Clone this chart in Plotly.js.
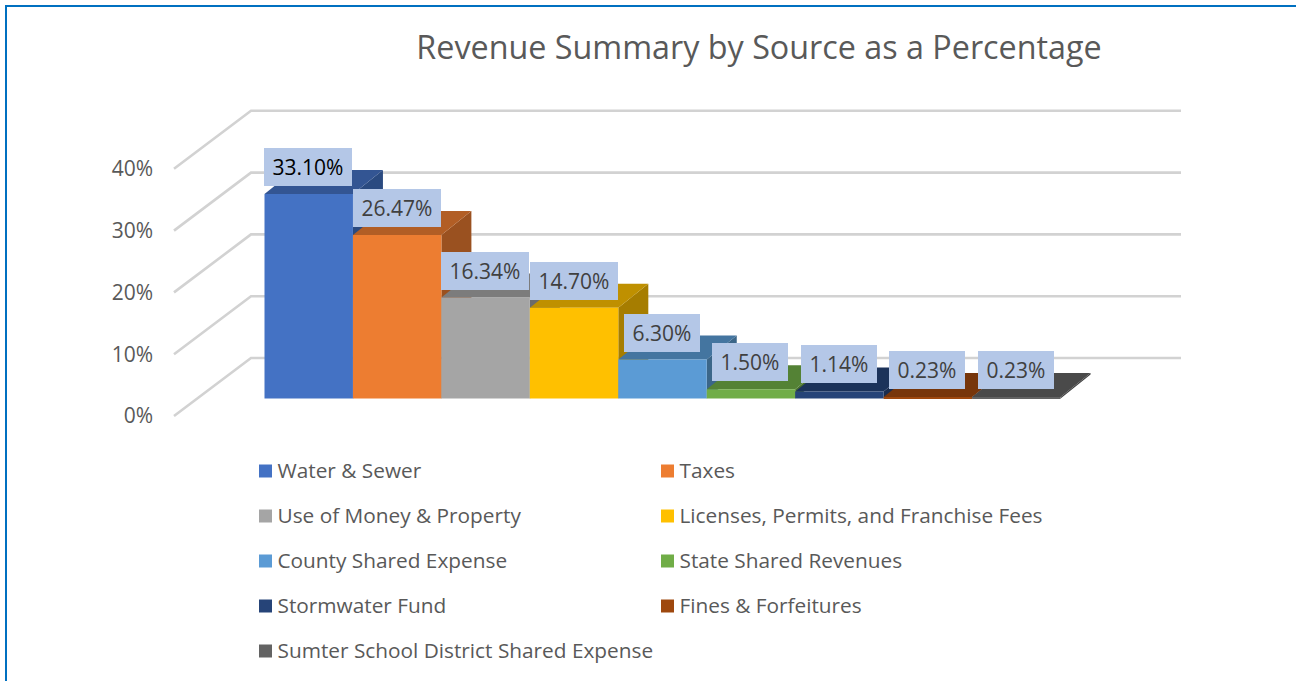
<!DOCTYPE html>
<html><head><meta charset="utf-8">
<script src="https://cdn.plot.ly/plotly-3.0.1.min.js"></script>
<style>html,body{margin:0;padding:0;background:#fff;overflow:hidden}</style>
</head><body><div id="chart" style="width:1296px;height:681px"></div>
<script>
const categories = ['Water & Sewer','Taxes','Use of Money & Property','Licenses, Permits, and Franchise Fees','County Shared Expense','State Shared Revenues','Stormwater Fund','Fines & Forfeitures','Sumter School District Shared Expense'];
const values = [33.10,26.47,16.34,14.70,6.30,1.50,1.14,0.23,0.23];
const frontColors = ['#4472c4','#ed7d31','#a5a5a5','#ffc000','#5b9bd5','#70ad47','#264478','#9e480e','#636363'];
const topColors = ['#335593','#b25e25','#7c7c7c','#bf9000','#4475a0','#548235','#1c335a','#77360b','#4a4a4a'];
const sideColors = ['#2a4a80','#9a5120','#6b6b6b','#a67d00','#3b6689','#49712e','#192c4e','#672f09','#404040'];
const gridTicks = [0,10,20,30,40];
const tickLabels = ['0%','10%','20%','30%','40%'];
const titleText = 'Revenue Summary by Source as a Percentage';

const W=1296,H=681;
const unit=88.45, barLeft=264.5, pxPct=6.18;
const wallZero=416, barZero=398.5;
const FONT='"Open Sans", sans-serif';
const px2x=p=>(p-barLeft)/unit-0.5;
const depthX=30/unit, depthY=24/pxPct;
const wallDX=77/unit, wallDY=58/pxPct;
const wallLeft=px2x(174), wallRight=px2x(1181);

const data=[];
gridTicks.forEach(t=>{
  data.push({type:'scatter',mode:'lines',x:[wallLeft,wallLeft+wallDX,wallRight],y:[t,t+wallDY,t+wallDY],
    line:{color:'#d2d2d2',width:2.6},hoverinfo:'skip',showlegend:false,xaxis:'x',yaxis:'y'});
});
values.forEach((v,i)=>{
  const L=i-0.5,R=i+0.5;
  data.push({type:'scatter',mode:'lines',x:[R,R+depthX,R+depthX,R,R],y:[0,depthY,v+depthY,v,0],fill:'toself',
    fillcolor:sideColors[i],line:{width:0,color:sideColors[i]},hoverinfo:'skip',showlegend:false,xaxis:'x',yaxis:'y2'});
  data.push({type:'scatter',mode:'lines',x:[L,R,R+depthX,L+depthX,L],y:[v,v,v+depthY,v+depthY,v],fill:'toself',
    fillcolor:topColors[i],line:{width:0,color:topColors[i]},hoverinfo:'skip',showlegend:false,xaxis:'x',yaxis:'y2'});
});
values.forEach((v,i)=>{
  data.push({type:'bar',x:[i],y:[v],width:1,name:categories[i],marker:{color:frontColors[i],line:{width:0}},showlegend:false,xaxis:'x',yaxis:'y3'});
});
const colX=[265.5,667.5], rowY0=471, rowGap=45;
data.push({type:'scatter',mode:'markers',
  x:categories.map((c,i)=>colX[i%2]),y:categories.map((c,i)=>rowY0+rowGap*Math.floor(i/2)),
  marker:{symbol:'square',size:13,color:frontColors,line:{width:0}},hoverinfo:'skip',showlegend:false,xaxis:'x2',yaxis:'y4',cliponaxis:false});
data.push({type:'scatter',mode:'text',
  x:categories.map((c,i)=>colX[i%2]+12),y:categories.map((c,i)=>rowY0+2+rowGap*Math.floor(i/2)),
  text:categories,textposition:'middle right',textfont:{family:FONT,size:20.8,color:'#595959'},
  hoverinfo:'skip',showlegend:false,xaxis:'x2',yaxis:'y4',cliponaxis:false});

const range=z=>[(z-H)/pxPct,z/pxPct];
const layout={
  width:W,height:H,margin:{l:0,r:0,t:0,b:0},paper_bgcolor:'#fff',plot_bgcolor:'rgba(0,0,0,0)',
  showlegend:false,barmode:'overlay',
  title:{text:titleText,x:759/W,y:1-48/H,xanchor:'center',yanchor:'middle',font:{family:FONT,size:32.3,color:'#595959'}},
  xaxis:{range:[px2x(0),px2x(W)],visible:false,fixedrange:true},
  xaxis2:{range:[0,W],visible:false,fixedrange:true,overlaying:'x',anchor:'y4'},
  yaxis:{range:range(wallZero),tickvals:gridTicks,ticktext:tickLabels,showgrid:false,zeroline:false,showline:false,ticks:'',
    anchor:'free',position:153/W,tickfont:{family:FONT,size:21,color:'#595959'},fixedrange:true},
  yaxis2:{range:range(barZero),visible:false,overlaying:'y',fixedrange:true},
  yaxis3:{range:range(barZero),visible:false,overlaying:'y',fixedrange:true},
  yaxis4:{range:[H,0],visible:false,overlaying:'y',fixedrange:true,anchor:'x2'},
  shapes:[{type:'rect',xref:'paper',yref:'paper',x0:6/W,x1:1.1,y0:-0.1,y1:1-6/H,line:{color:'#0070c0',width:2},fillcolor:'rgba(0,0,0,0)',layer:'below'}],
  annotations:values.map((v,i)=>({
    x:i,y:v,xref:'x',yref:'y3',yshift:27,xshift:-0.5,text:v.toFixed(2)+'%',showarrow:false,
    xanchor:'center',yanchor:'middle',bgcolor:'#b4c7e7',width:v>=10?84:72,height:34,borderpad:2,borderwidth:0,
    font:{family:FONT,size:21,color:i===0?'#000000':'#404040'}
  }))
};
Plotly.newPlot('chart',data,layout,{displayModeBar:false,responsive:false});
</script></body></html>
